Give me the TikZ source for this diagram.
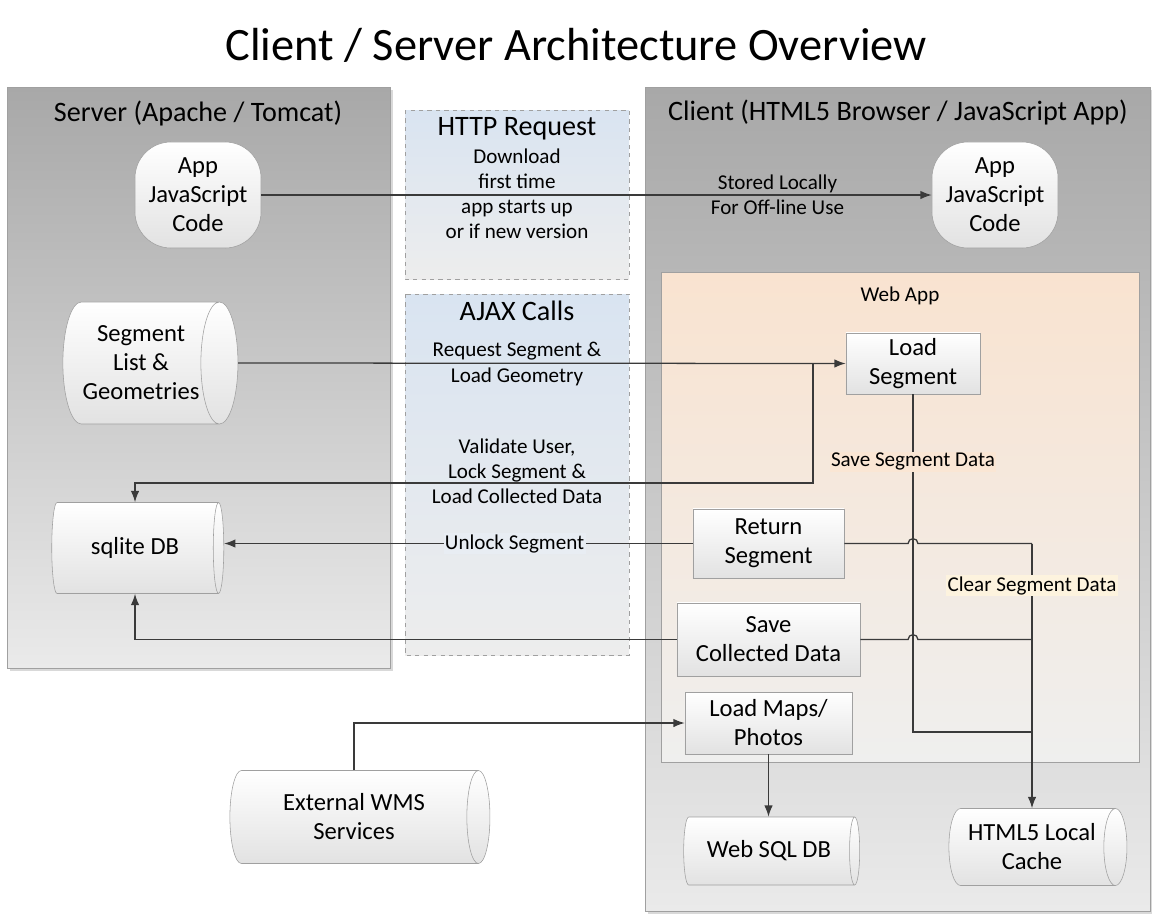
\documentclass[tikz,border=0pt]{standalone}
\usepackage{fontspec}
\setmainfont{Carlito}
\usepackage{xcolor}
\usepackage{tikz}
\usetikzlibrary{arrows.meta,shapes.geometric,shadows}

\definecolor{lineclr}{RGB}{58,58,58}
\definecolor{panelTop}{RGB}{168,168,168}
\definecolor{panelBot}{RGB}{234,234,234}
\definecolor{appTop}{RGB}{249,227,208}
\definecolor{appBot}{RGB}{239,239,238}
\definecolor{reqTop}{RGB}{217,228,241}
\definecolor{reqBot}{RGB}{237,237,237}
\definecolor{boxBot}{RGB}{226,226,226}
\definecolor{boxLine}{RGB}{160,160,160}
\definecolor{saveBg}{RGB}{250,230,212}
\definecolor{clearBg}{RGB}{253,243,222}
\definecolor{unlockBg}{RGB}{232,237,243}

\tikzset{
  panel/.style={draw=boxLine, top color=panelTop, bottom color=panelBot,
    drop shadow={shadow xshift=2pt,shadow yshift=-2pt,opacity=.3}},
  reqpanel/.style={draw=boxLine, dashed, top color=reqTop, bottom color=reqBot},
  apppanel/.style={draw=boxLine, top color=appTop, bottom color=appBot},
  headtxt/.style={font=\fontsize{20}{24}\selectfont},
  lbl/.style={font=\fontsize{15}{17.8}\selectfont, align=center, inner sep=1pt},
  codebox/.style={draw=boxLine, top color=white, bottom color=boxBot,
    rounded corners=0.9cm, minimum width=3.15cm, minimum height=2.65cm,
    font=\fontsize{17.5}{20.6}\selectfont, align=center, inner sep=0pt},
  stepbox/.style={draw=boxLine, top color=white, bottom color=boxBot,
    font=\fontsize{17.5}{20.6}\selectfont, align=center, inner sep=1pt,
    drop shadow={shadow xshift=1pt,shadow yshift=-1pt,opacity=.2}},
  store/.style={cylinder, draw=boxLine, top color=white, bottom color=boxBot,
    aspect=0.5, font=\fontsize{17.5}{20.6}\selectfont, align=center, inner sep=0pt},
  arr/.style={draw=lineclr, line width=0.9pt, -{Latex[length=8pt,width=6pt]}},
  wire/.style={draw=lineclr, line width=0.9pt},
}

\begin{document}
\begin{tikzpicture}[x=0.025cm,y=-0.025cm]
\useasboundingbox (0,0) rectangle (1152,915);

\node[font=\fontsize{33}{40}\selectfont] (title) at (576,45) {Client / Server Architecture Overview};

% panels
\path[panel] (7,87) rectangle (390,668);
\path[panel] (645,87) rectangle (1150,911);
\path[apppanel] (661,272) rectangle (1139,762);
\path[reqpanel] (405,110) rectangle (629,279);
\path[reqpanel] (405,294) rectangle (629,655);

\node[headtxt] (srvhead) at (198,113) {Server (Apache / Tomcat)};
\node[headtxt] (clihead) at (898,112) {Client (HTML5 Browser / JavaScript App)};
\node[headtxt] (httphead) at (517,129) {HTTP Request};
\node[lbl] (httptxt) at (517,194) {Download\\first time\\app starts up\\or if new version};
\node[headtxt] (ajaxhead) at (517,311) {AJAX Calls};
\node[lbl] (reqtxt) at (517,364) {Request Segment \&\\Load Geometry};
\node[lbl] (valtxt) at (517,471) {Validate User,\\Lock Segment \&\\Load Collected Data};
\node[lbl] (apphead) at (900,296) {Web App};

% stores and steps
\node[codebox] (srvjs) at (198,195) {App\\JavaScript\\Code};
\node[codebox] (clijs) at (995,195) {App\\JavaScript\\Code};
\node[store, minimum height=4.375cm, minimum width=3.05cm] (seglist) at (141,363) {Segment\\List \&\\Geometries};
\node[store, minimum height=4.3cm, minimum width=2.275cm] (sqlite) at (135,548) {sqlite DB};
\node[store, minimum height=6.5cm, minimum width=2.325cm] (extwms) at (354,817) {External WMS\\Services};
\node[store, minimum height=4.4cm, minimum width=1.7cm] (websql) at (769,851) {Web SQL DB};
\node[store, minimum height=4.45cm, minimum width=1.925cm] (cache) at (1032,847) {HTML5 Local\\Cache};

\node[stepbox, minimum width=3.35cm, minimum height=1.525cm] (loadseg) at (913,363.5) {Load\\Segment};
\node[stepbox, minimum width=3.775cm, minimum height=1.725cm] (retseg) at (768.5,543.5) {Return\\Segment};
\node[stepbox, minimum width=4.575cm, minimum height=1.825cm] (savecol) at (768.5,639.5) {Save\\Collected Data};
\node[stepbox, minimum width=4.175cm, minimum height=1.55cm] (loadmaps) at (768.5,723) {Load Maps/\\Photos};

% connectors
\draw[arr] (srvjs) -- node[lbl, pos=0.77] (storedtxt) {Stored Locally\\For Off-line Use} (clijs);
\draw[arr] (seglist.east) -- (loadseg.west);
\coordinate (lockjn) at (813,363);
\draw[arr] (lockjn) -- ++(0,120) -| (sqlite.north);
\draw[arr] (retseg.west) -- node[lbl, fill=unlockBg, pos=0.38] (unlocktxt) {Unlock Segment} (retseg.west -| sqlite.east);
\draw[arr] (savecol.west) -| (sqlite.south);
\draw[arr] (extwms.north) |- (loadmaps.west);
\draw[arr] (loadmaps.south) -- (loadmaps.south |- websql.north);

\coordinate (cachejn) at (1032,732);
\coordinate (clearjn) at (1032,543.5);
\draw[wire] (loadseg.south) |- node[lbl, fill=saveBg, pos=0.1] (savetxt) {Save Segment Data} (cachejn);
\draw[wire] (retseg.east) -- ([xshift=-3.5pt]retseg.east -| loadseg.south)
  arc[start angle=180, end angle=0, radius=3.5pt] -- (clearjn);
\draw[wire] (savecol.east) -- ([xshift=-3.5pt]savecol.east -| loadseg.south)
  arc[start angle=180, end angle=0, radius=3.5pt] -- (savecol.east -| clearjn);
\draw[arr] (clearjn) -- node[lbl, fill=clearBg, pos=0.16] (cleartxt) {Clear Segment Data} (clearjn |- cache.north);

\end{tikzpicture}
\end{document}
